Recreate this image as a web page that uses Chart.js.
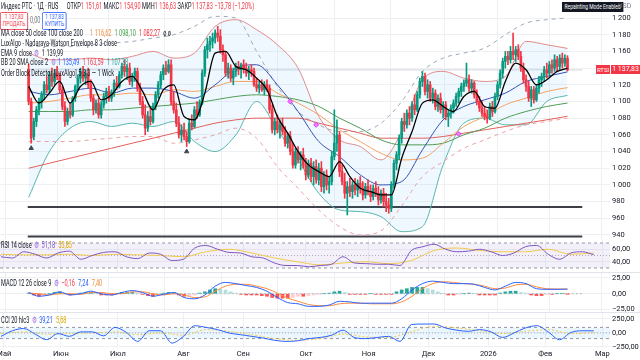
<!DOCTYPE html>
<html lang="ru">
<head>
<meta charset="utf-8">
<title>Индекс РТС · 1Д · RUS</title>
<script src="https://cdn.jsdelivr.net/npm/chart.js@4.4.1/dist/chart.umd.min.js"></script>
<style>
  html, body { margin: 0; padding: 0; background: #fff; overflow: hidden; }
  #wrap { position: relative; width: 640px; height: 360px; font-family: Roboto, "Noto Sans", sans-serif; }
  canvas { position: absolute; left: 0; }
  .lg { position: absolute; left: 1px; white-space: nowrap; font-size: 9px; line-height: 10px; color: #131722;
        transform: scaleX(0.62); transform-origin: 0 0; }
  .lg b { font-weight: normal; margin-left: 5px; }
  .r { color: #f23645; } .g { color: #089981; } .bl { color: #2962ff; } .o { color: #f08c3a; }
  .gr { color: #43a047; } .pu { color: #7e57c2; } .y { color: #e0a800; } .tl { color: #26a69a; }
  .gear { color: #9c6ade; margin: 0 4px; }
  .box { position: absolute; top: 12px; font-size: 7px; line-height: 7px; text-align: center; border: 1px solid;
         border-radius: 2px; padding: 1px 3px; transform: scaleX(0.7); transform-origin: 0 0; background: #fff; }
  .sep { position: absolute; left: 0; width: 640px; height: 1px; background: #e0e3eb; }
  .tag { position: absolute; font-size: 7px; line-height: 9px; height: 9px; color: #fff; background: #f23645; text-align: center; }
</style>
</head>
<body>
<div id="wrap">
  <canvas id="mainChart" width="640" height="239" style="top:0"></canvas>
  <canvas id="rsiChart" width="640" height="33" style="top:239px"></canvas>
  <canvas id="macdChart" width="640" height="40" style="top:272px"></canvas>
  <canvas id="cciChart" width="640" height="48" style="top:312px"></canvas>
  <div class="sep" style="top:272px"></div>
  <div class="sep" style="top:312px"></div>

  <div class="lg" style="top:1px">Индекс РТС · 1Д · RUS &nbsp;&nbsp;&nbsp;&nbsp; ОТКР<span class="r">1 151,61</span> МАКС<span class="r">1 154,90</span> МИН<span class="r">1 136,63</span> ЗАКР<span class="r">1 137,83</span> <span class="r">−13,78 (−1,20%)</span></div>
  <div class="box" style="left:0; color:#f23645; border-color:#f23645">1 137,83<br>ПРОДАТЬ</div>
  <div class="lg" style="top:15px; left:30px; color:#787b86">0,00</div>
  <div class="box" style="left:42px; color:#2962ff; border-color:#2962ff">1 137,83<br>КУПИТЬ</div>
  <div class="lg" style="top:28px">MA close 50 close 100 close 200 &nbsp;&nbsp;<b class="o">1 116,62</b><b class="gr">1 098,10</b><b class="r">1 082,27</b><b>ø ø</b></div>
  <div class="lg" style="top:38px">LuxAlgo - Nadaraya-Watson Envelope 8 3 close</div>
  <div class="lg" style="top:48px">EMA 9 close<span class="gear">⚙</span>1 139,99</div>
  <div class="lg" style="top:57px">BB 20 SMA close 2<span class="gear">⚙</span><span class="bl">1 135,49</span><b class="r">1 163,59</b><b class="tl">1 107,38</b></div>
  <div class="lg" style="top:68px">Order Block Detector [LuxAlgo] 5 3 3 — 1 Wick</div>
  <div class="lg" style="top:2px; left:562px; background:#131722; color:#fff; font-size:8px; padding:0 4px">Repainting Mode Enabled</div>
  <div class="lg" style="top:1px; left:618px; color:#787b86; font-size:7px; transform:none">USD</div>
  <div class="tag" style="top:65px; left:596px; width:14px; font-size:6px">RTSI</div>
  <div class="tag" style="top:65px; left:611px; width:29px">1 137,83</div>

  <div class="lg" style="top:240px">RSI 14 close<span class="gear">⚙</span><span class="pu">51,18</span><b class="y">53,85</b></div>
  <div class="lg" style="top:278px">MACD 12 26 close 9<span class="gear">⚙</span><span class="r">−0,16</span><b class="bl">7,24</b><b class="o">7,40</b></div>
  <div class="lg" style="top:315px">CCI 20 hlc3<span class="gear">⚙</span><span class="bl">39,21</span><b class="y">5,68</b></div>
</div>

<script>
// Свечи (индекс дня 0..208)
const opens = [1138,1100,1058,1076,1090,1100,1108,1120,1114,1132, 1124,1134,1130,1114,1094,1076,1088,1084,1104,1118,
  1128,1136,1128,1134,1120,1104,1090,1098,1084,1096, 1106,1112,1104,1110,1122,1118,1132,1142,1136,1140,
  1124,1130,1136,1116,1100,1084,1068,1082,1076,1094, 1108,1120,1132,1140,1136,1144,1100,1090,1074,1060,
  1066,1058,1052,1074,1070,1090,1084,1098,1134,1162, 1168,1172,1176,1182,1178,1162,1156,1134,1140,1128,
  1136,1142,1138,1144,1140,1134,1138,1136,1120,1116, 1120,1114,1120,1116,1090,1066,1076,1066,1072,1064,
  1050,1058,1040,1024,1040,1030,1036,1024,1012,1026, 1010,1022,1006,1020,998,1012,1000,1004,1034,1050,
  1060,1016,1004,990,998,992,1000,994,1002,996, 988,998,992,986,996,990,982,990,980,976,
  972,1000,1026,1036,1056,1076,1072,1086,1080,1096, 1090,1108,1124,1130,1112,1120,1104,1110,1094,1104,
  1090,1096,1082,1086,1092,1098,1106,1112,1118,1122, 1126,1116,1122,1108,1100,1092,1086,1082,1080,1094,
  1088,1106,1120,1134,1148,1154,1150,1160,1156,1162, 1154,1140,1126,1118,1104,1114,1102,1116,1126,1130,
  1138,1134,1144,1140,1150,1142,1152,1146,1151.61];
const highs = [1145,1104,1080,1094,1104,1112,1124,1130,1136,1140, 1138,1142,1134,1118,1100,1092,1098,1106,1120,1132,
  1140,1142,1138,1140,1126,1108,1102,1104,1100,1110, 1116,1118,1114,1126,1130,1136,1146,1150,1144,1146,
  1134,1140,1140,1122,1106,1096,1088,1092,1098,1112, 1124,1136,1144,1148,1150,1150,1112,1098,1082,1072,
  1074,1064,1078,1084,1094,1100,1102,1138,1166,1176, 1178,1182,1186,1190,1186,1168,1160,1146,1144,1140,
  1146,1148,1146,1150,1146,1142,1144,1140,1128,1124, 1126,1124,1126,1120,1096,1080,1084,1078,1080,1070,
  1062,1064,1050,1044,1046,1040,1044,1032,1030,1032, 1028,1030,1026,1028,1016,1018,1010,1040,1090,1078,
  1064,1024,1014,1004,1008,1004,1008,1006,1010,1004, 1002,1006,1000,1000,1004,998,994,996,990,984,
  1004,1030,1040,1060,1080,1086,1090,1094,1100,1108, 1112,1128,1136,1134,1126,1124,1116,1114,1108,1110,
  1100,1100,1090,1096,1102,1110,1116,1122,1126,1146, 1132,1126,1124,1114,1106,1100,1094,1090,1098,1100,
  1110,1124,1138,1152,1160,1160,1166,1182,1166,1168, 1160,1146,1132,1124,1118,1118,1120,1130,1134,1142,
  1146,1148,1150,1156,1154,1156,1158,1156,1154.9];
const lows = [1096,1050,1054,1070,1084,1092,1102,1110,1110,1118, 1120,1126,1110,1090,1070,1072,1080,1082,1100,1114,
  1122,1124,1120,1116,1100,1084,1086,1080,1080,1092, 1098,1100,1100,1106,1114,1116,1128,1130,1126,1120,
  1118,1124,1112,1096,1080,1060,1064,1072,1074,1090, 1104,1116,1126,1132,1134,1096,1086,1070,1056,1052,
  1054,1046,1050,1066,1068,1080,1082,1096,1130,1152, 1160,1164,1170,1172,1158,1148,1130,1128,1124,1120,
  1130,1132,1128,1134,1130,1126,1130,1118,1112,1110, 1112,1108,1112,1086,1062,1060,1062,1056,1060,1046,
  1044,1036,1020,1020,1026,1018,1020,1006,1008,1004, 1000,1002,1000,992,990,994,990,1000,1030,1040,
  1010,1000,984,964,986,984,988,986,990,982, 984,988,980,982,986,976,978,974,968,966,
  968,996,1018,1030,1050,1064,1068,1072,1076,1084, 1088,1104,1118,1108,1104,1100,1098,1090,1088,1086,
  1080,1078,1070,1080,1086,1094,1098,1106,1112,1118, 1112,1110,1104,1096,1088,1082,1078,1074,1078,1082,
  1086,1102,1116,1128,1140,1144,1146,1150,1148,1150, 1136,1122,1112,1100,1094,1098,1100,1110,1118,1124,
  1128,1130,1134,1136,1136,1138,1140,1142,1136.63];
const closes = [1100,1056,1076,1090,1100,1108,1120,1114,1132,1124, 1134,1130,1114,1094,1076,1088,1084,1104,1118,1128,
  1136,1128,1134,1120,1104,1090,1098,1084,1096,1106, 1112,1104,1110,1122,1118,1132,1142,1136,1140,1124,
  1130,1136,1116,1100,1084,1068,1082,1076,1094,1108, 1120,1132,1140,1136,1144,1100,1090,1074,1060,1066,
  1058,1052,1074,1070,1090,1084,1098,1134,1162,1168, 1172,1176,1182,1178,1162,1156,1134,1140,1128,1136,
  1142,1138,1144,1140,1134,1138,1136,1120,1116,1120, 1114,1120,1116,1090,1066,1076,1066,1072,1064,1050,
  1058,1040,1024,1040,1030,1036,1024,1012,1026,1010, 1022,1006,1020,998,1012,1000,1004,1034,1050,1060,
  1016,1004,990,998,992,1000,994,1002,996,988, 998,992,986,996,990,982,990,980,976,972,
  1000,1026,1036,1056,1076,1072,1086,1080,1096,1090, 1108,1124,1130,1112,1120,1104,1110,1094,1104,1090,
  1096,1082,1086,1092,1098,1106,1112,1118,1122,1126, 1116,1122,1108,1100,1092,1086,1082,1080,1094,1088,
  1106,1120,1134,1148,1154,1150,1160,1156,1162,1154, 1140,1126,1118,1104,1114,1102,1116,1126,1130,1138,
  1134,1144,1140,1150,1142,1152,1146,1151.61,1137.83];

// Линии индикаторов: значения через каждые 4 или 8 свечей
const ema9 = [1118,1098,1110,1124,1098,1118,1124,1102,1108,1124, 1130,1112,1090,1114,1120,1082,1078,1110,1158,1160,
  1142,1138,1128,1114,1082,1062,1040,1024,1016,1010, 1028,1010,996,992,988,988,1032,1064,1098,1102,
  1094,1088,1106,1112,1094,1092,1124,1146,1138,1120, 1126,1136,1140];
const sma50 = [1098,1100,1104,1108,1108,1110,1108,1114,1112,1118, 1124,1124,1110,1098,1084,1066,1052,1038,1030,1032,
  1050,1070,1082,1096,1104,1112,1116.62];
const sma100 = [1088,1088,1088,1090,1090,1092,1094,1096,1098,1102, 1106,1108,1106,1102,1094,1080,1068,1054,1048,1048,
  1050,1060,1068,1080,1088,1094,1098.1];
const sma200 = [1020,1026,1032,1038,1044,1050,1056,1062,1068,1074, 1078,1080,1080,1080,1074,1068,1062,1056,1056,1056,
  1058,1062,1066,1070,1074,1078,1082.27];
const bbBasis = [1112,1108,1112,1116,1110,1116,1116,1112,1104,1120, 1140,1144,1120,1088,1052,1034,1012,1000,1004,1042,
  1078,1094,1102,1110,1124,1130,1135.49];
const bbUpper = [1158,1150,1150,1152,1150,1154,1160,1152,1158,1190, 1198,1186,1168,1140,1082,1054,1046,1030,1064,1126,
  1136,1128,1124,1130,1172,1168,1163.59];
const bbLower = [985,1040,1068,1076,1070,1074,1070,1076,1052,1040, 1060,1100,1066,1030,990,970,968,962,944,950,
  1024,1074,1080,1072,1072,1100,1107.38];
const nwUpper = [1166,1166,1166,1168,1170,1172,1176,1180,1190,1202, 1200,1160,1118,1088,1072,1064,1064,1074,1100,1136,
  1152,1158,1164,1180,1194,1198,1200];
const nwLower = [1052,1052,1052,1054,1056,1058,1058,1050,1054,1060, 1068,1056,1022,996,970,950,940,945,975,1010,
  1028,1044,1054,1064,1072,1076,1080];
const levelLines = [973.6, 938.2];
const lastPrice = 1137.83;
const pivotIdx = [1, 61], pivotVal = [1044, 1040];
const crossIdx = [101, 111, 166], crossVal = [1100, 1072, 1061];

// RSI 14 и его средняя
const rsi = [48,46,56,52,46,54,57,44,50,55, 56,48,45,54,52,42,44,62,66,60, 55,54,48,46,38,34,34,32,34,36,
  48,38,37,36,36,34,58,64,68,60, 56,57,60,56,50,54,64,66,52,44, 54,56,51.18];
const rsiMa = [52,51,51,52,50,52,51,50,48,56, 60,54,46,40,35,38,40,37,42,58, 62,58,56,56,60,52,53.85];

// MACD 12 26 9
const macdLine = [2,-4,-2,3,-2,0,4,0,-2,2, 5,2,-4,-1,2,-6,-8,-2,12,18, 16,13,10,4,-6,-14,-16,-20,-20,-18,
  -12,-13,-15,-15,-15,-15,-8,6,16,20, 18,16,16,15,10,6,12,18,16,8, 7,7,7.24];
const macdSignal = [1,0,-2,0,0,-1,2,2,0,0, 3,3,0,-2,0,-2,-6,-5,4,12, 15,15,12,8,1,-7,-12,-17,-19,-19,
  -16,-15,-15,-16,-16,-16,-13,-4,8,16, 19,18,16,15,12,8,9,14,15,11, 8,7.5,7.4];
const macdHist = [1,-2,-4,-3,0,2,3,0,-2,-1, 1,2,2,0,-2,-2,-2,0,2,2, 2,0,-1,-3,-4,-2,1,2,2,-2,
  -4,-3,-2,1,3,6,8,7,6,3, 1,-1,-2,-2,-2,-3,-4,-6,-7,-7, -7,-6,-4,-4,-3,-2,-1,0,1,3,
  4,2,-1,-1,-1,-1,0,-1,-1,-1, -1,3,6,8,10,10,10,8,6,3, 0,-2,-2,-1,0,1,0,-2,-2,-2,
  -2,1,3,4,4,2,1,-2,-3,-3, -1,-1,0,0,-0.16];

// CCI 20 и средняя
const cci = [-60,40,80,-20,-120,-10,-60,20,20,-50, 100,10,-150,40,40,-180,-60,130,100,60, 0,-30,-60,-90,-130,-150,-140,-100,-80,-40,
  50,-80,-100,-80,-60,-150,150,160,160,90, 50,30,60,20,-80,0,90,130,20,-120, 10,40,39.21];
const cciMa = [-10,20,-20,-10,0,20,-30,0,-40,60, 30,-30,-100,-130,-100,-20,-70,-80,20,120, 90,40,-10,30,60,-10,5.68];

// Ось времени
const monthPos = [1, 21, 41, 64, 85, 107, 129, 150, 171, 191, 211];
const monthLabels = ['Май', 'Июн', 'Июл', 'Авг', 'Сен', 'Окт', 'Ноя', 'Дек', '2026', 'Фев', 'Мар'];
const priceTicks = [940, 960, 980, 1000, 1020, 1040, 1060, 1080, 1100, 1120, 1140, 1160, 1180, 1200];

const X_MIN = -0.35, X_MAX = 213.7;
const AXIS_W = 30;
const UP = '#089981', DOWN = '#f23645';
const GRID = '#eef0f4';

function sampled(values, step) {
  return values.map((v, k) => ({ x: k * step, y: v }));
}
function flat(y) {
  return [{ x: X_MIN, y: y }, { x: X_MAX, y: y }];
}
function lineDs(values, step, color, extra) {
  return Object.assign({
    type: 'line', data: sampled(values, step), borderColor: color, borderWidth: 1,
    pointRadius: 0, cubicInterpolationMode: 'monotone', fill: false
  }, extra || {});
}
function levelDs(y, color, extra) {
  return Object.assign({
    type: 'line', data: flat(y), borderColor: color, borderWidth: 1, pointRadius: 0, fill: false
  }, extra || {});
}
function ruNum(v, dec) {
  const neg = v < 0;
  let s = Math.abs(v).toFixed(dec).replace('.', ',');
  const parts = s.split(',');
  if (parts[0].length > 3) parts[0] = parts[0].slice(0, -3) + ' ' + parts[0].slice(-3);
  s = parts.join(',');
  return (neg ? '−' : '') + s;
}

// общая ось X для всех панелей; без отступов под подписи, чтобы панели совпадали по пикселям
function xScale(showLabels) {
  return {
    type: 'linear', min: X_MIN, max: X_MAX,
    grid: { color: GRID, drawTicks: false },
    border: { display: false },
    afterBuildTicks: s => { s.ticks = monthPos.map(v => ({ value: v })); },
    afterFit: s => { s.height = showLabels ? 12 : 0; s.paddingLeft = 0; s.paddingRight = 0; },
    ticks: {
      display: showLabels, autoSkip: false, maxRotation: 0, padding: 2,
      color: '#131722', font: { size: 7.5, family: 'Roboto' },
      callback: (v, i) => monthLabels[i]
    }
  };
}
function yScale(min, max, ticks, fmt) {
  return {
    type: 'linear', position: 'right', min: min, max: max,
    grid: { color: GRID, drawTicks: false },
    border: { display: false },
    afterBuildTicks: s => { s.ticks = ticks.map(v => ({ value: v })); },
    afterFit: s => { s.width = AXIS_W; s.paddingTop = 0; s.paddingBottom = 0; },
    ticks: { padding: 2, color: '#131722', font: { size: 7.5, family: 'Roboto' }, callback: fmt }
  };
}
function baseOptions(x, y) {
  return {
    responsive: false, animation: false, events: [],
    layout: { padding: 0, autoPadding: false },
    scales: { x: x, y: y },
    plugins: { legend: { display: false }, tooltip: { enabled: false } }
  };
}

const candleColor = ctx => closes[ctx.dataIndex] >= opens[ctx.dataIndex] ? UP : DOWN;

// Основная панель: свечи и наложения
new Chart(document.getElementById('mainChart'), {
  type: 'line',
  data: {
    datasets: [
      lineDs(ema9, 4, '#000000', { borderWidth: 1.3 }),
      {
        type: 'bar', data: opens.map((o, i) => ({ x: i, y: [o, closes[i]] })),
        backgroundColor: candleColor, barThickness: 2, grouped: false
      },
      {
        type: 'bar', data: lows.map((l, i) => ({ x: i, y: [l, highs[i]] })),
        backgroundColor: candleColor, barThickness: 1, grouped: false
      },
      {
        type: 'line', data: pivotIdx.map((x, k) => ({ x: x, y: pivotVal[k] })), showLine: false,
        pointStyle: 'triangle', pointRadius: 2.5, backgroundColor: '#434651', borderColor: '#434651'
      },
      {
        type: 'line', data: crossIdx.map((x, k) => ({ x: x, y: crossVal[k] })), showLine: false,
        pointStyle: 'rectRot', pointRadius: 2.5, backgroundColor: '#ea80fc', borderColor: '#e040fb'
      },
      lineDs(bbBasis, 8, '#3553b5'),
      lineDs(sma50, 8, '#f4a261'),
      lineDs(sma100, 8, '#4f9d55'),
      lineDs(sma200, 8, '#e0605a'),
      lineDs(nwUpper, 8, '#9aa9b8', { borderDash: [4, 4] }),
      lineDs(nwLower, 8, '#eca0a6', { borderDash: [4, 4] }),
      lineDs(bbUpper, 8, '#e08a8a', { fill: '+1', backgroundColor: 'rgba(33,150,243,0.07)' }),
      lineDs(bbLower, 8, '#5bb8a8'),
      levelDs(levelLines[0], '#3d3f46', { borderWidth: 2 }),
      levelDs(levelLines[1], '#3d3f46', { borderWidth: 2 }),
      levelDs(lastPrice, '#d1d4dc')
    ]
  },
  options: baseOptions(
    xScale(false),
    yScale(935.2, 1221.6, priceTicks, v => v === 1140 ? '' : ruNum(v, 0))
  )
});

// RSI
new Chart(document.getElementById('rsiChart'), {
  type: 'line',
  data: {
    datasets: [
      lineDs(rsi, 4, '#7e57c2'),
      lineDs(rsiMa, 8, '#f2c94c'),
      levelDs(70, '#9598a1', { borderDash: [3, 3], fill: { value: 30 }, backgroundColor: 'rgba(126,87,194,0.09)' }),
      levelDs(50, '#b2b5be', { borderDash: [1, 2] }),
      levelDs(30, '#9598a1', { borderDash: [3, 3] })
    ]
  },
  options: baseOptions(xScale(false), yScale(23.6, 76.4, [40, 60], v => ruNum(v, 2)))
});

// MACD
const histColor = ctx => {
  const k = ctx.dataIndex, v = macdHist[k], p = k > 0 ? macdHist[k - 1] : v;
  if (v >= 0) return v >= p ? '#26a69a' : '#b2dfdb';
  return v <= p ? '#ff5252' : '#ffcdd2';
};
new Chart(document.getElementById('macdChart'), {
  type: 'line',
  data: {
    datasets: [
      lineDs(macdLine, 4, '#2962ff'),
      lineDs(macdSignal, 4, '#ff8a3d'),
      { type: 'bar', data: sampled(macdHist, 2), backgroundColor: histColor, barThickness: 3, grouped: false },
      levelDs(0, '#b2b5be', { borderDash: [2, 2] })
    ]
  },
  options: baseOptions(xScale(false), yScale(-29, 34.5, [-25, 0, 25], v => ruNum(v, 2)))
});

// CCI
new Chart(document.getElementById('cciChart'), {
  type: 'line',
  data: {
    datasets: [
      lineDs(cci, 4, '#2962ff'),
      lineDs(cciMa, 8, '#f2c94c', { borderDash: [2, 2] }),
      levelDs(100, '#9598a1', { borderDash: [3, 3], fill: { value: -100 }, backgroundColor: 'rgba(33,150,243,0.09)' }),
      levelDs(0, '#b2b5be', { borderDash: [1, 2] }),
      levelDs(-100, '#9598a1', { borderDash: [3, 3] })
    ]
  },
  options: baseOptions(xScale(true), yScale(-267.9, 375, [-250, 0, 250], v => ruNum(v, 2)))
});
</script>
</body>
</html>
